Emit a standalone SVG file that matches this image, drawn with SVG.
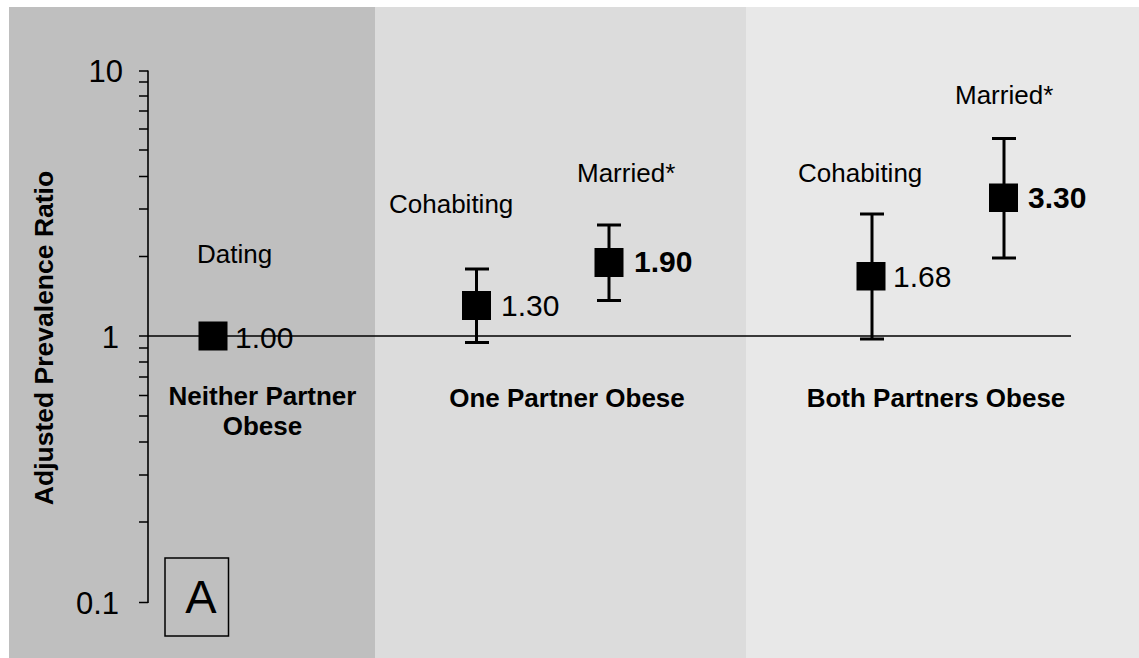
<svg xmlns="http://www.w3.org/2000/svg" width="1139" height="658" viewBox="0 0 1139 658">
<style>
.t{font-family:"Liberation Sans",Arial,sans-serif;fill:#000}
.lab{font-size:26px}
.num{font-size:30px}
.tk{font-size:31px;text-anchor:end}
.cat{font-size:26px;font-weight:bold;text-anchor:middle}
.ax{stroke:#000;stroke-width:1.6;fill:none}
.eb{stroke:#000;stroke-width:3;fill:none}
.mk{fill:#000}
</style>
<rect x="0" y="0" width="1139" height="658" fill="#ffffff"/>
<g id="panels">
<rect x="9" y="7" width="366" height="651" fill="#bfbfbf"/>
<rect x="375" y="7" width="371" height="651" fill="#dcdcdc"/>
<rect x="746" y="7" width="393" height="651" fill="#e8e8e8"/>
</g>
<g id="axis">
<line class="ax" x1="148" y1="70.5" x2="148" y2="603"/>
<path class="ax" d="M139 71H148M139 82H148M139 96H148M139 111H148M139 129H148M139 150H148M139 176.5H148M139 209H148M139 256.5H148M139 336H148M139 348H148M139 362H148M139 377H148M139 395.5H148M139 416H148M139 442H148M139 475H148M139 522H148M139 602.5H148"/>
<text class="t tk" x="123" y="82">10</text>
<text class="t tk" x="119" y="348">1</text>
<text class="t tk" x="119" y="614">0.1</text>
<text class="t" font-size="26.5" font-weight="bold" text-anchor="middle" transform="translate(53,338) rotate(-90)">Adjusted Prevalence Ratio</text>
</g>
<g id="connectors">
<line x1="148" y1="336" x2="1071" y2="336" stroke="#000" stroke-width="1.5"/>
</g>
<g id="dating">
<text class="t lab" x="197" y="263">Dating</text>
<rect class="mk" x="198.5" y="321.5" width="29" height="29"/>
<text class="t num" x="235" y="348">1.00</text>
</g>
<g id="cohab1">
<text class="t lab" x="389" y="213">Cohabiting</text>
<path class="eb" d="M476.5 269V342.5M465 269H489M465 342.5H489"/>
<rect class="mk" x="462" y="291" width="29" height="29"/>
<text class="t num" x="501" y="316">1.30</text>
</g>
<g id="married1">
<text class="t lab" x="577" y="182">Married*</text>
<path class="eb" d="M609 225V300.5M597 225H621M597 300.5H621"/>
<rect class="mk" x="594.5" y="248" width="29" height="29"/>
<text class="t num" x="634" y="272" font-weight="bold">1.90</text>
</g>
<g id="cohab2">
<text class="t lab" x="798" y="182">Cohabiting</text>
<path class="eb" d="M872 214V339M860 214H884M860 339H884"/>
<rect class="mk" x="856.5" y="262" width="29" height="28.5"/>
<text class="t num" x="893" y="287">1.68</text>
</g>
<g id="married2">
<text class="t lab" x="955" y="104">Married*</text>
<path class="eb" d="M1004 138.5V258M992 138.5H1016M992 258H1016"/>
<rect class="mk" x="989" y="183.5" width="29" height="28.5"/>
<text class="t num" x="1028" y="207.5" font-weight="bold">3.30</text>
</g>
<g id="categories">
<text class="t cat" x="262.5" y="405">Neither Partner</text>
<text class="t cat" x="262.5" y="435">Obese</text>
<text class="t cat" x="567" y="407">One Partner Obese</text>
<text class="t cat" x="936" y="407">Both Partners Obese</text>
</g>
<g id="panelA">
<rect x="165" y="558" width="63.5" height="78" fill="none" stroke="#000" stroke-width="1.5"/>
<text class="t" x="201" y="613" font-size="47" text-anchor="middle">A</text>
</g>
</svg>
